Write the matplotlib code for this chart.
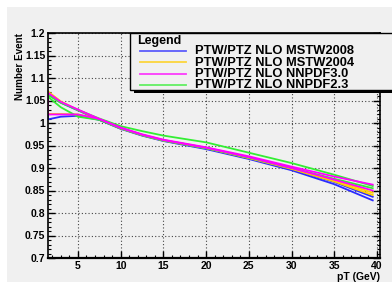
import numpy as np
import matplotlib
matplotlib.use('Agg')
import matplotlib.pyplot as plt
from matplotlib.patches import Rectangle
from matplotlib.lines import Line2D
from matplotlib.ticker import MultipleLocator

plt.rcParams['font.family'] = ['Liberation Sans', 'DejaVu Sans']

# data
xs_hi = [1.5, 3, 5, 7.5, 10, 12.5, 15, 20, 25, 30, 35, 39.5]
xs_lo = [1.5, 1.5, 3, 5, 7.5, 10, 12.5, 15, 20, 25, 30, 35, 39.5]

blue_hi = [1.064, 1.045, 1.028, 1.007, 0.988, 0.973, 0.961, 0.944, 0.922, 0.898, 0.869, 0.836]
blue_lo = [1.064, 1.008, 1.014, 1.016, 1.007, 0.987, 0.972, 0.960, 0.942, 0.920, 0.895, 0.864, 0.828]
yellow_hi = [1.070, 1.048, 1.029, 1.008, 0.989, 0.974, 0.962, 0.945, 0.923, 0.900, 0.873, 0.845]
yellow_lo = [1.070, 1.020, 1.020, 1.019, 1.008, 0.988, 0.973, 0.961, 0.944, 0.922, 0.898, 0.870, 0.840]
magenta_hi = [1.067, 1.047, 1.030, 1.009, 0.990, 0.975, 0.963, 0.946, 0.926, 0.903, 0.881, 0.863]
magenta_lo = [1.067, 1.019, 1.019, 1.019, 1.009, 0.989, 0.974, 0.962, 0.945, 0.924, 0.900, 0.874, 0.850]
green_hi = [1.062, 1.045, 1.029, 1.010, 0.993, 0.982, 0.972, 0.957, 0.934, 0.911, 0.885, 0.860]
green_lo = [1.062, 1.058, 1.035, 1.014, 1.007, 0.988, 0.973, 0.961, 0.944, 0.923, 0.900, 0.876, 0.855]

labels = ['PTW/PTZ NLO MSTW2008', 'PTW/PTZ NLO MSTW2004',
          'PTW/PTZ NLO NNPDF3.0', 'PTW/PTZ NLO NNPDF2.3']
colors = ['#2b2bff', '#ffcc00', '#ff00ff', '#33ee33']

W, H = 392, 283
bg = '#f0f0f0'

def fx(px):
    return px / W

def fy(py):
    return 1 - py / H

fig = plt.figure(figsize=(W / 100, H / 100), dpi=100)
fig.patch.set_facecolor('white')
fig.patches.append(Rectangle((fx(7), fy(282)), fx(392) - fx(7), fy(7) - fy(282),
                             transform=fig.transFigure, facecolor=bg, edgecolor='none', zorder=-10))

ax = fig.add_axes([fx(48), fy(258), fx(380) - fx(48), fy(33) - fy(258)])
ax.set_facecolor(bg)

series = [(blue_hi, blue_lo, colors[0]), (yellow_hi, yellow_lo, colors[1]),
          (green_hi, green_lo, colors[3]), (magenta_hi, magenta_lo, colors[2])]
for hi, lo, c in series:
    ax.plot(xs_hi, hi, color=c, lw=1.3)
    ax.plot(xs_lo, lo, color=c, lw=1.3)

ax.set_xlim(1.5, 40.35)
ax.set_ylim(0.7, 1.2)
ax.xaxis.set_major_locator(MultipleLocator(5))
ax.xaxis.set_minor_locator(MultipleLocator(1))
ax.yaxis.set_minor_locator(MultipleLocator(0.01))
ax.set_yticks(np.arange(0.7, 1.2001, 0.05))
ax.set_yticklabels(['0.7', '0.75', '0.8', '0.85', '0.9', '0.95', '1', '1.05', '1.1', '1.15', '1.2'])
ax.tick_params(which='both', direction='in', right=True, top=False, colors='black')
ax.tick_params(which='major', length=5, width=1.0, labelsize=7.5, pad=2)
ax.tick_params(which='minor', length=2.5, width=0.8)
for lab in ax.get_xticklabels() + ax.get_yticklabels():
    lab.set_fontweight('bold')
ax.grid(True, which='major', color='#444444', linestyle=(0, (1, 2)), lw=0.8)
for s in ax.spines.values():
    s.set_linewidth(1.2)
ax.spines['bottom'].set_linewidth(1.6)

fig.text(fx(20), fy(33), 'Number Event', rotation=90, ha='center', va='top',
         fontsize=7.1, fontweight='bold')
fig.text(fx(380), fy(277), 'pT (GeV)', ha='right', va='center',
         fontsize=7.5, fontweight='bold')

# legend box
fig.patches.append(Rectangle((fx(134), fy(93)), fx(392) - fx(134), fy(90) - fy(93),
                             transform=fig.transFigure, facecolor='black', edgecolor='none', zorder=5))
fig.patches.append(Rectangle((fx(130), fy(90)), fx(395) - fx(130), fy(33) - fy(90),
                             transform=fig.transFigure, facecolor=bg, edgecolor='black', lw=1.0, zorder=5))
fig.text(fx(137), fy(41), 'Legend', ha='left', va='center', fontsize=9,
         fontweight='bold', zorder=6)
entry_y = [51, 62, 73.5, 84.5]
for lab, c, py in zip(labels, colors, entry_y):
    fig.lines.append(Line2D([fx(140), fx(186)], [fy(py), fy(py)], transform=fig.transFigure,
                            color=c, lw=1.3, alpha=0.75, zorder=6))
    fig.text(fx(195), fy(py + 0.5), lab, ha='left', va='center', fontsize=9.3,
             fontweight='bold', zorder=6)

fig.savefig('out.png', dpi=100, facecolor=fig.get_facecolor())
